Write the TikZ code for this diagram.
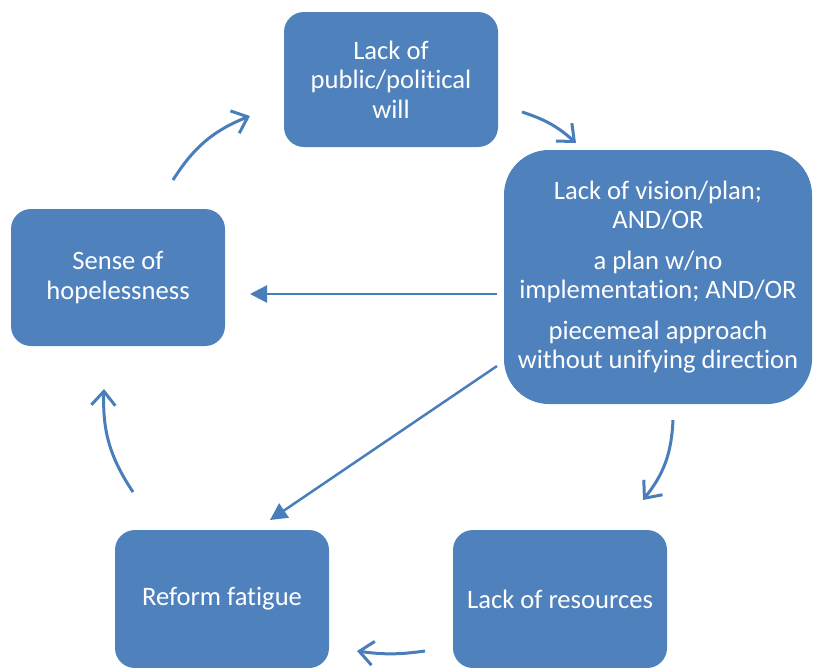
\documentclass[tikz,border=0pt]{standalone}
\usepackage{fontspec}
\setmainfont[RawFeature={-liga;-clig;-calt}]{Carlito}
\usetikzlibrary{arrows.meta}
\definecolor{boxblue}{RGB}{79,129,189}
\definecolor{arrowblue}{RGB}{74,126,187}
\tikzset{
  box/.style={rectangle, rounded corners=20pt, fill=boxblue, text=white, align=center,
    inner sep=0pt, font=\fontsize{26.6}{29.5}\selectfont},
  cyc/.style={draw=arrowblue, line width=3pt, -{Straight Barb[length=14pt,width=24pt,line width=3pt]}, bend left=18},
  direct/.style={draw=arrowblue, line width=2.5pt, -{Triangle[length=17pt,width=17pt]}}
}
\begin{document}
\begin{tikzpicture}[x=1pt,y=-1pt]
\useasboundingbox (0,0) rectangle (814,667);
\node[box, minimum width=214pt, minimum height=135pt] (will) at (391,79.5) {Lack of\\public/political\\will};
\node[box, rounded corners=45pt, minimum width=308pt, minimum height=254pt] (plan) at (658,277)
  {Lack of vision/plan;\\AND/OR\\[11pt]a plan w/no\\implementation; AND/OR\\[11pt]piecemeal approach\\without unifying direction};
\node[box, minimum width=214pt, minimum height=137pt] (hope) at (118,277.5) {Sense of\\hopelessness};
\node[box, minimum width=214pt, minimum height=138pt] (fatigue) at (222,599) {Reform fatigue};
\node[box, minimum width=214pt, minimum height=138pt] (res) at (560,599) {Lack of resources};

\coordinate (a1s) at (173,180); \coordinate (a1e) at (250,116);
\coordinate (a2s) at (522,112); \coordinate (a2e) at (576,143);
\coordinate (a3s) at (497,294); \coordinate (a3e) at (250,294);
\coordinate (a4s) at (497,366); \coordinate (a4e) at (270,520);
\coordinate (a5s) at (673,420); \coordinate (a5e) at (643,500);
\coordinate (a6s) at (425,651); \coordinate (a6e) at (357,651);
\coordinate (a7s) at (133,492); \coordinate (a7e) at (104,389);

\draw[cyc] (a1s) to (a1e);
\draw[cyc, bend left=12] (a2s) to (a2e);
\draw[direct] (a3s) -- (a3e);
\draw[direct] (a4s) -- (a4e);
\draw[cyc] (a5s) to (a5e);
\draw[cyc, bend left=8] (a6s) to (a6e);
\draw[cyc] (a7s) to (a7e);
\end{tikzpicture}
\end{document}
